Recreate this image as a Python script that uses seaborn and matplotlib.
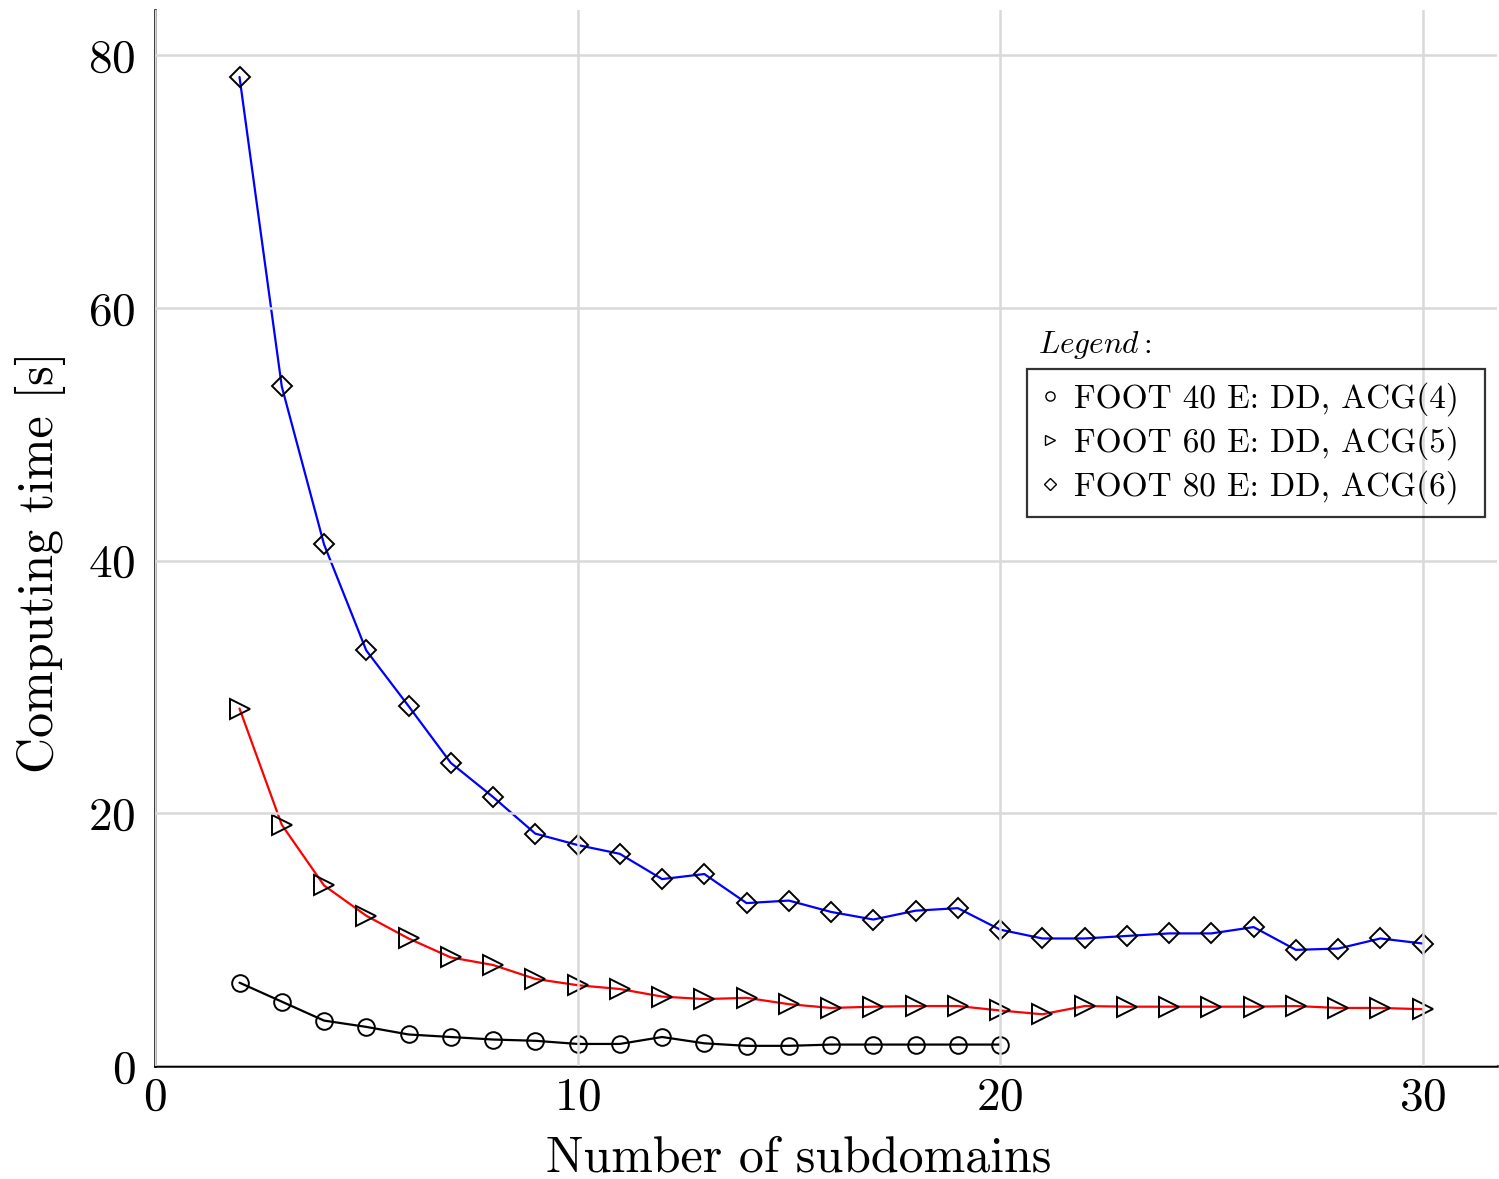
"""
Computing time vs number of subdomains - FOOT meshes, DD + ACG
"""

import numpy as np
import pandas as pd
import matplotlib
matplotlib.use('Agg')
import matplotlib.pyplot as plt
from matplotlib.lines import Line2D
import seaborn as sns

# ── data ─────────────────────────────────────────────────────────────────────

subdomains_40 = list(range(2, 21))
time_40 = [6.6, 5.1, 3.6, 3.1, 2.5, 2.3, 2.1, 2.0, 1.75, 1.75,
           2.3, 1.8, 1.6, 1.6, 1.7, 1.7, 1.7, 1.7, 1.7]

subdomains_60 = list(range(2, 31))
time_60 = [28.3, 19.1, 14.3, 11.9, 10.1, 8.6, 8.0, 6.9, 6.4, 6.1,
           5.5, 5.3, 5.4, 4.9, 4.6, 4.7, 4.75, 4.75, 4.4, 4.1,
           4.75, 4.7, 4.7, 4.7, 4.7, 4.75, 4.6, 4.6, 4.5]

subdomains_80 = list(range(2, 31))
time_80 = [78.3, 53.8, 41.3, 32.9, 28.5, 24.0, 21.3, 18.4, 17.5, 16.8,
           14.8, 15.2, 12.9, 13.1, 12.2, 11.6, 12.3, 12.5, 10.8, 10.1,
           10.1, 10.3, 10.5, 10.5, 11.0, 9.2, 9.3, 10.1, 9.7]

labels = ['FOOT 40 E: DD, ACG(4)',
          'FOOT 60 E: DD, ACG(5)',
          'FOOT 80 E: DD, ACG(6)']
x_ticks = [0, 10, 20, 30]
y_ticks = [0, 20, 40, 60, 80]

# ── style ─────────────────────────────────────────────────────────────────────

sns.set_style('white')
plt.rcParams['font.family'] = 'serif'
plt.rcParams['font.serif'] = ['cmr10', 'DejaVu Serif']
plt.rcParams['mathtext.fontset'] = 'cm'
plt.rcParams['axes.formatter.use_mathtext'] = True
plt.rcParams['text.color'] = 'black'
plt.rcParams['axes.labelcolor'] = 'black'
plt.rcParams['xtick.color'] = 'black'
plt.rcParams['ytick.color'] = 'black'

series = [
    (subdomains_40, time_40, 'black', 'o', 12),
    (subdomains_60, time_60, 'red', '>', 14),
    (subdomains_80, time_80, 'blue', 'D', 10.5),
]

fig = plt.figure(figsize=(14.99, 11.79), dpi=100)
ax = fig.add_axes([0.1034, 0.0958, 0.8953, 0.8957])

for xs, ys, color, marker, ms in series:
    df = pd.DataFrame({'x': xs, 'y': ys})
    sns.lineplot(data=df, x='x', y='y', ax=ax, color=color, linewidth=1.6,
                 marker=marker, markersize=ms, markerfacecolor='none',
                 markeredgecolor='black', markeredgewidth=1.4)

ax.set_xlim(0, 31.76)
ax.set_ylim(0, 83.6)
ax.set_xticks(x_ticks)
ax.set_yticks(y_ticks)
ax.tick_params(axis='both', length=0, labelsize=34)
ax.tick_params(axis='y', pad=14)
ax.tick_params(axis='x', pad=8)
ax.grid(True, color='#d9d9d9', linewidth=1.8)
ax.set_axisbelow(False)

for side in ['top', 'right']:
    ax.spines[side].set_visible(False)
for side in ['left', 'bottom']:
    ax.spines[side].set_color('black')
    ax.spines[side].set_linewidth(1.8)

ax.set_xlabel('Number of subdomains', fontsize=36, labelpad=12)
ax.xaxis.label.set_x(0.48)
ax.set_ylabel('Computing time [s]', fontsize=36, labelpad=16)
ax.yaxis.label.set_y(0.477)

handles = [Line2D([], [], linestyle='none', marker=m, markersize=s * 0.55,
                  markerfacecolor='none', markeredgecolor='black',
                  markeredgewidth=1.0)
           for _, _, _, m, s in series]
leg = ax.legend(handles, labels, loc='upper left', mode='expand',
                bbox_to_anchor=(0.6498, 0.50, 0.3413, 0.160), fontsize=24,
                frameon=True, fancybox=False, facecolor='none',
                edgecolor='black', handlelength=0.6, handletextpad=0.4,
                borderpad=0.4, labelspacing=0.3, borderaxespad=0)
leg.get_frame().set_linewidth(1.6)

ax.text(0.6579, 0.6673, r'$\mathit{Legend{:}}$', transform=ax.transAxes,
        fontsize=22.5, ha='left', va='bottom')

plt.savefig('out.png', dpi=100)
plt.close()
